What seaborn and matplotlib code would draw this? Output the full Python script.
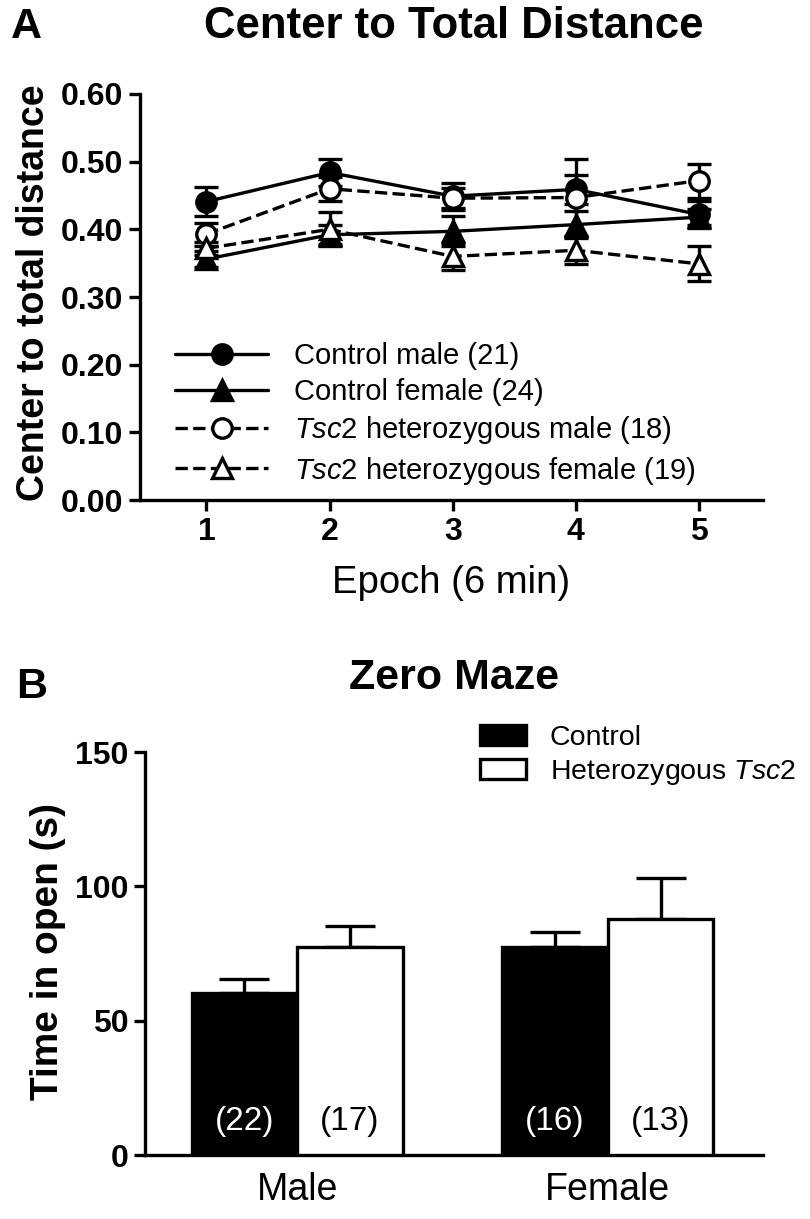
import pandas as pd
import matplotlib
matplotlib.use("Agg")
import matplotlib.pyplot as plt
from matplotlib.lines import Line2D
from matplotlib.patches import Patch
import seaborn as sns

# ---- data ----
epochs = [1, 2, 3, 4, 5]
ctrl_male = [0.441, 0.484, 0.449, 0.459, 0.422]
ctrl_male_sem = [0.022, 0.020, 0.020, 0.022, 0.020]
ctrl_female = [0.356, 0.392, 0.397, 0.407, 0.418]
ctrl_female_sem = [0.012, 0.014, 0.022, 0.020, 0.012]
tsc_male = [0.393, 0.460, 0.446, 0.447, 0.472]
tsc_male_sem = [0.017, 0.018, 0.015, 0.057, 0.025]
tsc_female = [0.372, 0.400, 0.360, 0.369, 0.349]
tsc_female_sem = [0.010, 0.025, 0.020, 0.020, 0.026]

sexes = ["Male", "Female"]
zm_ctrl = [60.3, 77.3]
zm_ctrl_sem = [5.2, 5.6]
zm_tsc = [77.3, 87.8]
zm_tsc_sem = [7.9, 15.3]
zm_ctrl_n = ["(22)", "(16)"]
zm_tsc_n = ["(17)", "(13)"]

sns.set_style("ticks")
plt.rcParams["font.family"] = ["Liberation Sans", "DejaVu Sans"]
plt.rcParams["mathtext.fontset"] = "custom"
plt.rcParams["mathtext.it"] = "Liberation Sans:italic"
plt.rcParams["mathtext.rm"] = "Liberation Sans"
for k in ["text.color", "axes.labelcolor", "xtick.color", "ytick.color", "axes.edgecolor"]:
    plt.rcParams[k] = "black"

LW = 2.4
fig = plt.figure(figsize=(8.1, 12.19), dpi=100)

# ================================
# A. Center to total distance
# ================================
ax = fig.add_axes([0.1728, 0.5898, 0.7691, 0.3331])

series = [
    ("Control male (21)", ctrl_male, ctrl_male_sem, "o", "black", "-"),
    ("Control female (24)", ctrl_female, ctrl_female_sem, "^", "black", "-"),
    (r"$\it{Tsc2}$ heterozygous male (18)", tsc_male, tsc_male_sem, "o", "white", "--"),
    (r"$\it{Tsc2}$ heterozygous female (19)", tsc_female, tsc_female_sem, "^", "white", "--"),
]
handles = []
for label, vals, sem, mk, fc, ls in series:
    ax.errorbar(epochs, vals, yerr=sem, fmt="none", ecolor="black",
                elinewidth=LW, capsize=8.5, capthick=LW, zorder=2)
    sns.lineplot(x=epochs, y=vals, ax=ax, color="black", linestyle=ls, linewidth=LW,
                 marker=mk, markersize=14, markerfacecolor=fc, markeredgecolor="black",
                 markeredgewidth=LW, zorder=3)
    handles.append(Line2D([0], [0], color="black", linestyle=ls, linewidth=LW, marker=mk,
                          markersize=14, markerfacecolor=fc, markeredgecolor="black",
                          markeredgewidth=LW, label=label))

ax.set_xlim(0.46, 5.52)
ax.set_ylim(0, 0.6)
ax.set_xticks(epochs)
yt = [0, 0.1, 0.2, 0.3, 0.4, 0.5, 0.6]
ax.set_yticks(yt)
ax.set_yticklabels([f"{v:.2f}" for v in yt])
ax.tick_params(width=LW, length=8, labelsize=23, pad=4)
for t in ax.get_xticklabels() + ax.get_yticklabels():
    t.set_fontweight("bold")
sns.despine(ax=ax)
for s in ["left", "bottom"]:
    ax.spines[s].set_linewidth(LW)
ax.set_xlabel("Epoch (6 min)", fontsize=27.5)
ax.xaxis.set_label_coords(0.5, -0.16)
ax.set_ylabel("Center to total distance", fontsize=27, fontweight="bold")
ax.yaxis.set_label_coords(-0.141, 0.51)
ax.legend(handles=handles, loc="upper left", bbox_to_anchor=(0.056, 0.389), frameon=False,
          fontsize=21, handlelength=3.2, handletextpad=0.9, labelspacing=0.28,
          borderpad=0, borderaxespad=0)

fig.text(0.56, 1 - 27 / 1219, "Center to Total Distance", fontsize=31.5, fontweight="bold",
         ha="center", va="center")
fig.text(0.013, 1 - 27 / 1219, "A", fontsize=31, fontweight="bold", va="center")

# ================================
# B. Zero maze
# ================================
bx = fig.add_axes([0.1790, 0.0525, 0.7630, 0.3306])
bar_df = pd.DataFrame({
    "sex": sexes * 2,
    "genotype": ["Control"] * 2 + ["Heterozygous Tsc2"] * 2,
    "time": zm_ctrl + zm_tsc,
})
sns.barplot(data=bar_df, x="sex", y="time", hue="genotype", ax=bx,
            palette={"Control": "black", "Heterozygous Tsc2": "white"},
            edgecolor="black", linewidth=LW, errorbar=None, width=0.68, gap=0,
            legend=False, zorder=3)

for cont, sems, ns, tc in zip(bx.containers, [zm_ctrl_sem, zm_tsc_sem],
                              [zm_ctrl_n, zm_tsc_n], ["white", "black"]):
    for bar, e, n in zip(cont, sems, ns):
        cx = bar.get_x() + bar.get_width() / 2
        h = bar.get_height()
        bx.errorbar(cx, h, yerr=[[0], [e]], fmt="none", ecolor="black",
                    elinewidth=LW, capsize=18, capthick=LW, zorder=2)
        bx.text(cx, 12.5, n, color=tc, fontsize=24, ha="center", va="center", zorder=4)

bx.set_xlim(-0.49, 1.5)
bx.set_ylim(0, 150)
bx.set_yticks([0, 50, 100, 150])
bx.tick_params(axis="y", width=LW, length=8, labelsize=23, pad=4)
bx.tick_params(axis="x", length=0, labelsize=27, pad=12)
for t in bx.get_yticklabels():
    t.set_fontweight("bold")
sns.despine(ax=bx)
for s in ["left", "bottom"]:
    bx.spines[s].set_linewidth(LW)
bx.set_xlabel("")
bx.set_ylabel("Time in open (s)", fontsize=28, fontweight="bold")
bx.yaxis.set_label_coords(-0.128, 0.504)

bar_handles = [Patch(facecolor="black", edgecolor="black", linewidth=LW, label="Control"),
               Patch(facecolor="white", edgecolor="black", linewidth=LW,
                     label=r"Heterozygous $\it{Tsc2}$")]
bx.legend(handles=bar_handles, loc="upper left", bbox_to_anchor=(0.542, 1.068), frameon=False,
          fontsize=20.5, handlelength=1.6, handleheight=0.7, handletextpad=0.85,
          labelspacing=0.27, borderpad=0, borderaxespad=0)

fig.text(0.56, 1 - 678 / 1219, "Zero Maze", fontsize=31, fontweight="bold", ha="center", va="center")
fig.text(0.02, 1 - 687 / 1219, "B", fontsize=31, fontweight="bold", va="center")

plt.savefig("out.png", dpi=100)
plt.close()
